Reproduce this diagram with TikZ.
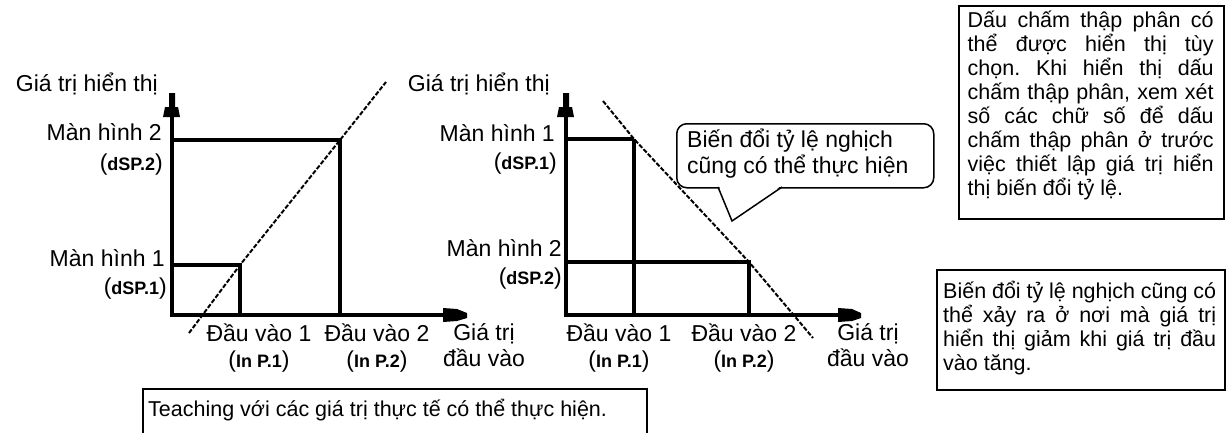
\documentclass[tikz,border=0pt]{standalone}
\usepackage{fontspec}
\setmainfont{Liberation Sans}
\frenchspacing
\newcommand\segtxt[1]{{\fontsize{18}{20}\selectfont\bfseries #1}}
\newcommand\jl[2]{\makebox[#1][s]{#2}}
\newcommand\mlines[3]{\parbox[t]{#1}{\lineskiplimit=-60pt\relax #2#3}}
\begin{document}
\begin{tikzpicture}[x=1pt,y=-1pt,
  lbl/.style={inner sep=0pt, font=\fontsize{23}{26}\selectfont},
  notetxt/.style={inner sep=0pt, font=\fontsize{21.5}{24}\selectfont},
  axisline/.style={line width=3.4pt},
  guide/.style={line width=3.1pt},
  diag/.style={line width=2pt, dash pattern=on 4.5pt off 1.8pt},
  frame/.style={draw, line width=1.6pt, inner sep=0pt}
]
\useasboundingbox (0,0) rectangle (1227,432);

% ---------------- left graph ----------------
\coordinate (LO) at (172,315);
\coordinate (LY) at (172,108);
\coordinate (LX) at (443,315);
\draw[axisline] (LY) -- (LO) -- (LX);
\fill (163,117) -- (180,117) -- (178,107) -- (175,107) -- (175,93) -- (169,93) -- (169,107) -- (165,107) -- cycle;
\fill (443,308) -- (457,309) -- (467,313) -- (467,318) -- (457,321) -- (443,322) -- cycle;

\coordinate (L2) at (172,140);
\coordinate (L2c) at (340,140);
\coordinate (L2b) at (340,315);
\draw[guide] (L2) -- (L2c) -- (L2b);
\coordinate (L1) at (172,265);
\coordinate (L1c) at (240,265);
\coordinate (L1b) at (240,315);
\draw[guide] (L1) -- (L1c) -- (L1b);
\coordinate (Ld0) at (189,333);
\coordinate (Ld1) at (386,82);
\draw[diag] (Ld0) -- (L1c) -- (L2c) -- (Ld1);

\node[lbl, anchor=base east] (Lyl) at (158,91) {Giá trị hiển thị};
\node[lbl, anchor=base east] (Lm2) at (162,140) {Màn hình 2};
\node[lbl, anchor=base east] (Lm2s) at (163,170) {(\segtxt{dSP.2})};
\node[lbl, anchor=base east] (Lm1) at (165,266) {Màn hình 1};
\node[lbl, anchor=base east] (Lm1s) at (167,294) {(\segtxt{dSP.1})};
\node[lbl, anchor=base] (Li1) at (259,341) {Đầu vào 1};
\node[lbl, anchor=base] (Li1s) at (259,367) {(\segtxt{In P.1})};
\node[lbl, anchor=base] (Li2) at (377,341) {Đầu vào 2};
\node[lbl, anchor=base] (Li2s) at (377,367) {(\segtxt{In P.2})};
\node[lbl, anchor=base] (Lxl) at (484,340) {\mlines{100pt}{\centering}{Giá trị\\đầu vào}};

% ---------------- right graph ----------------
\coordinate (RO) at (566,315);
\coordinate (RY) at (566,108);
\coordinate (RX) at (838,315);
\draw[axisline] (RY) -- (RO) -- (RX);
\fill (557,117) -- (574,117) -- (572,107) -- (569,107) -- (569,93) -- (563,93) -- (563,107) -- (559,107) -- cycle;
\fill (838,308) -- (852,309) -- (861,313) -- (861,318) -- (852,321) -- (838,322) -- cycle;

\coordinate (R1) at (566,139);
\coordinate (R1c) at (634,139);
\coordinate (R1b) at (634,315);
\draw[guide] (R1) -- (R1c);
\draw[line width=3.8pt] (R1c) -- (R1b);
\coordinate (R2) at (566,262);
\coordinate (R2c) at (749,262);
\coordinate (R2b) at (749,315);
\draw[guide] (R2) -- (R2c) -- (R2b);
\coordinate (Rd0) at (603,101);
\coordinate (Rd1) at (813,338);
\draw[diag] (Rd0) -- (R1c) -- (R2c) -- (Rd1);

\node[lbl, anchor=base east] (Ryl) at (550,91) {Giá trị hiển thị};
\node[lbl, anchor=base east] (Rm1) at (555,141) {Màn hình 1};
\node[lbl, anchor=base east] (Rm1s) at (557,169) {(\segtxt{dSP.1})};
\node[lbl, anchor=base east] (Rm2) at (562,256) {Màn hình 2};
\node[lbl, anchor=base east] (Rm2s) at (562,284) {(\segtxt{dSP.2})};
\node[lbl, anchor=base] (Ri1) at (619,341) {Đầu vào 1};
\node[lbl, anchor=base] (Ri1s) at (619,367) {(\segtxt{In P.1})};
\node[lbl, anchor=base] (Ri2) at (744,341) {Đầu vào 2};
\node[lbl, anchor=base] (Ri2s) at (744,367) {(\segtxt{In P.2})};
\node[lbl, anchor=base] (Rxl) at (868,340) {\mlines{100pt}{\centering}{Giá trị\\đầu vào}};

% ---------------- callout ----------------
\node[frame, line width=1.5pt, rounded corners=10pt, anchor=north west,
      minimum width=257pt, minimum height=64pt] (bub) at (676,123) {};
\coordinate (bpa) at (718,187);
\coordinate (bptip) at (732,221);
\coordinate (bpb) at (782,187);
\fill[white] (719,185.9) -- (781,185.9) -- (bptip) -- cycle;
\draw[line width=1.5pt, line join=miter] (bpa) -- (bptip) -- (bpb);
\node[lbl, anchor=base west] (bubtxt) at (687,147)
  {\mlines{240pt}{\raggedright}{Biến đổi tỷ lệ nghịch\\cũng có thể thực hiện}};

% ---------------- note boxes ----------------
\node[frame, anchor=north west, minimum width=265pt, minimum height=213pt] (note1) at (958,5) {};
\node[notetxt, anchor=base west] (note1txt) at (967.5,27)
  {\mlines{246pt}{\raggedright}{%
   \jl{246pt}{Dấu chấm thập phân có}\\
   \jl{246pt}{thể được hiển thị tùy}\\
   \jl{246pt}{chọn. Khi hiển thị dấu}\\
   \jl{246pt}{chấm thập phân, xem xét}\\
   \jl{246pt}{số các chữ số để dấu}\\
   \jl{246pt}{chấm thập phân ở trước}\\
   \jl{246pt}{việc thiết lập giá trị hiển}\\
   thị biến đổi tỷ lệ.}};

\node[frame, anchor=north west, minimum width=288pt, minimum height=120pt] (note2) at (936,269) {};
\node[notetxt, anchor=base west] (note2txt) at (943,298)
  {\mlines{273pt}{\raggedright}{%
   \jl{273pt}{Biến đổi tỷ lệ nghịch cũng có}\\
   \jl{273pt}{thể xảy ra ở nơi mà giá trị}\\
   \jl{273pt}{hiển thị giảm khi giá trị đầu}\\
   vào tăng.}};

% ---------------- bottom box ----------------
\coordinate (tb1) at (143,436);
\coordinate (tb2) at (143,389);
\coordinate (tb3) at (647,389);
\coordinate (tb4) at (647,436);
\draw[line width=1.6pt] (tb1) -- (tb2) -- (tb3) -- (tb4);
\node[notetxt, anchor=base west] (teach) at (148,416) {Teaching với các giá trị thực tế có thể thực hiện.};
\end{tikzpicture}
\end{document}
